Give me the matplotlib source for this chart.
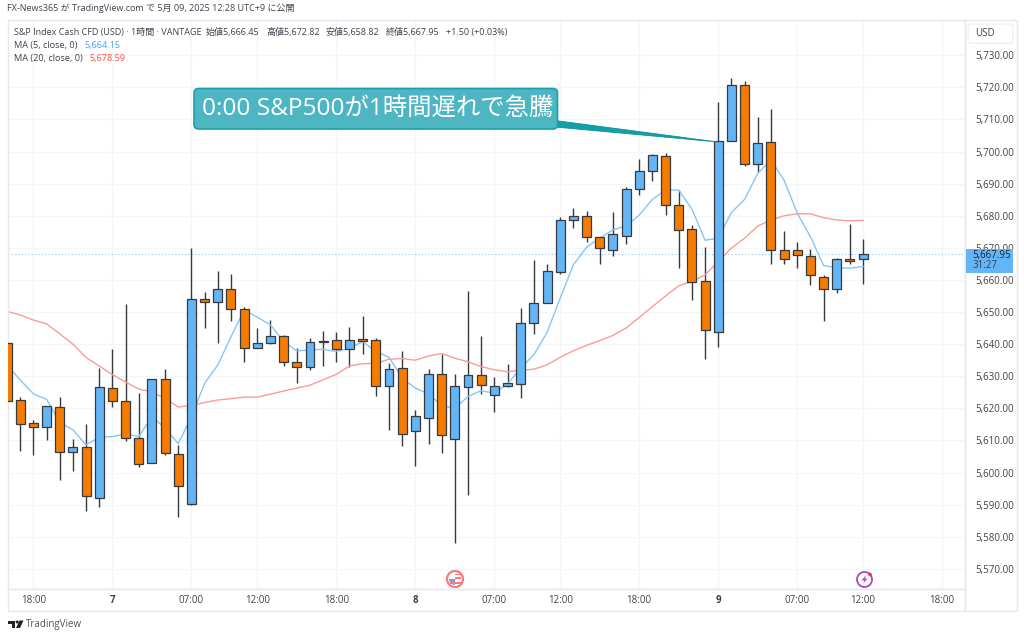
#!/usr/bin/env python3
"""S&P Index Cash CFD 1時間足 (TradingView) を再現する"""
import matplotlib
matplotlib.use("Agg")
import matplotlib.pyplot as plt
from matplotlib.patches import Circle, FancyBboxPatch, Polygon, Rectangle, Wedge

plt.rcParams["font.family"] = ["Open Sans", "Noto Sans CJK JP", "DejaVu Sans"]

# --- データ ---
opens = [5640.2, 5622.6, 5615.4, 5614.3, 5620.5, 5606.5, 5608.0, 5592.2, 5626.2, 5622.2,
         5610.7, 5602.9, 5629.1, 5605.8, 5590.1, 5654.0, 5653.1, 5657.1, 5651.0, 5638.9,
         5640.2, 5642.4, 5634.3, 5633.0, 5640.6, 5641.4, 5638.5, 5641.7, 5641.2, 5626.8,
         5632.5, 5612.8, 5617.1, 5630.8, 5610.4, 5626.5, 5630.3, 5624.1, 5627.1, 5627.6,
         5646.5, 5652.9, 5662.5, 5678.7, 5679.8, 5673.4, 5669.2, 5673.8, 5688.2, 5694.0,
         5698.6, 5683.5, 5675.8, 5659.6, 5643.9, 5703.3, 5720.9, 5696.2, 5702.9, 5669.4,
         5669.4, 5667.6, 5661.0, 5657.1, 5666.6, 5666.45]
highs = [5640.2, 5623.4, 5616.3, 5620.7, 5623.4, 5610.5, 5615.0, 5632.5, 5638.4, 5652.5,
         5624.7, 5629.1, 5632.4, 5608.6, 5670.0, 5656.1, 5662.9, 5661.8, 5651.5, 5645.0,
         5647.5, 5642.7, 5638.7, 5641.8, 5644.0, 5643.9, 5645.4, 5648.7, 5641.8, 5634.0,
         5637.9, 5619.5, 5632.4, 5637.0, 5630.6, 5656.6, 5642.5, 5629.7, 5633.8, 5651.4,
         5666.2, 5665.0, 5679.6, 5682.3, 5681.5, 5673.4, 5681.2, 5688.9, 5697.7, 5699.1,
         5699.7, 5688.0, 5677.0, 5670.3, 5715.4, 5722.9, 5722.0, 5710.7, 5713.2, 5675.4,
         5671.7, 5669.6, 5661.4, 5666.9, 5677.3, 5672.82]
lows = [5622.4, 5606.6, 5605.5, 5610.2, 5597.6, 5600.5, 5588.1, 5589.4, 5620.5, 5609.8,
        5601.8, 5602.9, 5605.3, 5586.1, 5590.0, 5644.9, 5640.5, 5647.3, 5634.5, 5638.7,
        5640.0, 5633.2, 5627.8, 5631.8, 5633.3, 5634.4, 5633.0, 5637.0, 5623.8, 5613.2,
        5608.4, 5601.9, 5609.0, 5606.2, 5578.1, 5593.0, 5624.5, 5619.0, 5626.6, 5623.3,
        5643.3, 5652.9, 5661.8, 5676.3, 5671.9, 5665.1, 5667.5, 5671.3, 5686.5, 5690.8,
        5680.2, 5663.6, 5653.8, 5635.3, 5639.0, 5703.3, 5695.5, 5693.7, 5664.9, 5665.0,
        5663.6, 5658.3, 5647.3, 5655.9, 5664.9, 5658.82]
closes = [5622.4, 5615.2, 5614.2, 5620.7, 5606.3, 5608.0, 5592.6, 5626.5, 5622.2, 5610.7,
          5602.7, 5629.1, 5606.0, 5595.9, 5654.0, 5653.1, 5657.1, 5651.0, 5638.7, 5640.3,
          5642.4, 5634.3, 5632.9, 5640.6, 5641.1, 5638.5, 5641.4, 5641.1, 5626.8, 5632.3,
          5612.1, 5617.6, 5630.8, 5611.6, 5626.8, 5630.3, 5627.4, 5627.0, 5627.9, 5646.7,
          5652.9, 5662.8, 5678.7, 5679.8, 5673.4, 5669.8, 5674.2, 5688.2, 5694.0, 5698.8,
          5683.3, 5675.5, 5659.4, 5644.3, 5703.4, 5720.9, 5696.2, 5702.7, 5669.2, 5666.6,
          5667.7, 5661.4, 5657.1, 5666.6, 5665.8, 5667.95]
ma5 = [5633.5, 5628.8, 5624.5, 5622.8, 5615.6, 5613.3, 5608.6, 5611.0, 5611.2, 5612.0,
       5611.2, 5617.4, 5613.8, 5609.0, 5617.4, 5627.8, 5633.5, 5642.3, 5650.6, 5648.4,
       5646.0, 5640.8, 5637.9, 5638.2, 5638.4, 5637.7, 5638.7, 5640.8, 5637.7, 5635.9,
       5629.4, 5626.3, 5624.5, 5620.8, 5620.0, 5623.7, 5625.5, 5624.7, 5627.6, 5632.5,
       5636.7, 5643.6, 5654.3, 5664.7, 5670.2, 5673.0, 5675.6, 5676.8, 5680.2, 5685.1,
       5688.0, 5688.0, 5682.1, 5672.4, 5673.0, 5681.0, 5685.1, 5693.2, 5697.4, 5691.1,
       5680.8, 5673.5, 5664.5, 5663.8, 5663.7, 5664.15]
ma20 = [5650.2, 5649.1, 5647.5, 5646.3, 5643.2, 5640.0, 5635.8, 5633.2, 5630.5, 5628.2,
        5626.0, 5625.1, 5623.0, 5620.4, 5620.9, 5621.8, 5622.6, 5623.0, 5623.5, 5623.5,
        5624.4, 5625.4, 5626.3, 5627.2, 5628.9, 5630.6, 5633.2, 5633.9, 5634.0, 5635.3,
        5635.5, 5635.0, 5636.3, 5637.1, 5635.6, 5634.5, 5633.0, 5632.0, 5631.4, 5631.8,
        5632.2, 5633.5, 5635.9, 5637.9, 5639.6, 5641.1, 5642.7, 5645.0, 5648.3, 5651.7,
        5655.0, 5658.2, 5659.5, 5661.6, 5665.7, 5669.9, 5673.0, 5676.8, 5678.7, 5680.0,
        5680.6, 5680.6, 5679.4, 5678.7, 5678.4, 5678.59]
price_ticks = [5570, 5580, 5590, 5600, 5610, 5620, 5630, 5640, 5650, 5660,
               5670, 5680, 5690, 5700, 5710, 5720, 5730]
time_ticks = [2, 8, 14, 19, 25, 31, 37, 42, 48, 54, 60, 65, 71]
time_labels = ["18:00", "7", "07:00", "12:00", "18:00", "8", "07:00",
               "12:00", "18:00", "9", "07:00", "12:00", "18:00"]
last_price = 5667.95

UP = "#64b5f6"
DOWN = "#f57c00"
EDGE = "#37393f"
GRID = "#f4f5f7"
FRAME = "#e6e8ee"
TEXT = "#3f424c"
W, H = 1024, 638

fig = plt.figure(figsize=(W / 100, H / 100), dpi=100, facecolor="white")

# --- チャート本体 ---
ax = fig.add_axes([7.5 / W, 1 - 589 / H, (965 - 7.5) / W, (589 - 20) / H])
ax.set_xlim(0.03, 72.74)
ax.set_ylim(5563.7, 5741.0)
ax.set_axisbelow(True)
ax.grid(color=GRID, linewidth=1)
for s in ax.spines.values():
    s.set_color(FRAME)
    s.set_linewidth(1)

ax.yaxis.tick_right()
ax.set_yticks(price_ticks)
ax.set_yticklabels([f"{p:,.2f}" for p in price_ticks])
ax.set_xticks(time_ticks)
ax.set_xticklabels(time_labels)
ax.tick_params(axis="both", length=0, labelsize=7.0, labelcolor=TEXT)
ax.tick_params(axis="y", pad=7.5)
ax.tick_params(axis="x", pad=4.5)
for lab, txt in zip(ax.get_xticklabels(), time_labels):
    if len(txt) == 1:
        lab.set_fontweight("bold")

x = list(range(len(opens)))
bottoms = [min(o, c) for o, c in zip(opens, closes)]
heights = [abs(o - c) for o, c in zip(opens, closes)]
colors = [UP if c >= o else DOWN for o, c in zip(opens, closes)]

ax.vlines(x, lows, highs, color=EDGE, linewidth=1, zorder=2)
ax.plot(x, ma5, color="#85c6f8", linewidth=1.0, zorder=2.2)
ax.plot(x, ma20, color="#fb9c96", linewidth=1.0, zorder=2.2)
ax.bar(x, heights, bottom=bottoms, width=0.68, color=colors, edgecolor=EDGE,
       linewidth=0.9, zorder=3)
ax.axhline(last_price, color="#8fc8f5", linewidth=0.8, linestyle=(0, (1, 2)), zorder=1.5)

# --- ピクセル座標のオーバーレイ (枠, 吹き出し, 文字) ---
ov = fig.add_axes([0, 0, 1, 1], facecolor="none")
ov.set_xlim(0, W)
ov.set_ylim(H, 0)
ov.axis("off")

ov.add_patch(Rectangle((965, 20), 52, 590.5, fill=False, edgecolor=FRAME, linewidth=1))
ov.add_patch(Rectangle((7.5, 589), 957.5, 21.5, fill=False, edgecolor=FRAME, linewidth=1))
ov.add_patch(FancyBboxPatch((968, 24), 44.7, 19.3, boxstyle="round,pad=0,rounding_size=2.5",
                            facecolor="white", edgecolor="#eef0f3", linewidth=1))
ov.text(975, 34, "USD", fontsize=7.0, color=TEXT, va="center")

# 現在値タグ
ov.add_patch(Rectangle((966, 249), 47, 24, facecolor=UP, edgecolor="none", zorder=4))
ov.text(972.7, 255.5, "5,667.95", fontsize=7.0, color="#1c2030", va="center", zorder=5)
ov.text(972.7, 266, "31:27", fontsize=7.0, color="#2c3f55", va="center", zorder=5)

# 吹き出し
ov.add_patch(Polygon([[555, 120.5], [718, 142], [555, 127]], closed=True,
                     facecolor="#12a0a8", edgecolor="#0f8f9c", linewidth=0.6, zorder=5))
ov.add_patch(FancyBboxPatch((194, 88.5), 363.5, 40.5, boxstyle="round,pad=0,rounding_size=4.5",
                            facecolor="#4db6c2", edgecolor="#1c9fad", linewidth=1.2, zorder=6))
ov.text(202, 108.3, "0:00 S&P500が1時間遅れで急騰", fontsize=17.6, color="white",
        va="center", zorder=7)

# 上部の文字
ov.text(7, 8.5, "FX-News365 が TradingView.com で 5月 09, 2025 12:28 UTC+9 に公開",
        fontsize=6.45, color=TEXT, va="center")
ov.text(14, 32, "S&P Index Cash CFD (USD) · 1時間 · VANTAGE", fontsize=6.45, color=TEXT, va="center")
ov.text(206, 32, "始値5,666.45", fontsize=6.45, color=TEXT, va="center")
ov.text(266, 32, "高値5,672.82", fontsize=6.45, color=TEXT, va="center")
ov.text(326, 32, "安値5,658.82", fontsize=6.45, color=TEXT, va="center")
ov.text(386, 32, "終値5,667.95", fontsize=6.45, color=TEXT, va="center")
ov.text(446, 32, "+1.50 (+0.03%)", fontsize=6.45, color=TEXT, va="center")
ov.text(14, 45.5, "MA (5, close, 0)", fontsize=6.6, color=TEXT, va="center")
ov.text(84.5, 45.5, "5,664.15", fontsize=6.6, color="#42a5f5", va="center")
ov.text(14, 58.5, "MA (20, close, 0)", fontsize=6.6, color=TEXT, va="center")
ov.text(89.5, 58.5, "5,678.59", fontsize=6.6, color="#f4524d", va="center")

# 経済指標アイコン
ov.add_patch(Circle((455, 579), 8, facecolor="white", edgecolor="#f77c80", linewidth=1.6, zorder=4))
ov.add_patch(Wedge((455, 579), 6, 90, 180, facecolor="#64a8ee", zorder=5))
ov.add_patch(Rectangle((455, 573.5), 5.5, 1.6, facecolor="#f77c80", zorder=5))
ov.add_patch(Rectangle((455, 577), 6, 1.6, facecolor="#f77c80", zorder=5))
ov.add_patch(Rectangle((449.5, 582), 11, 1.6, facecolor="#f77c80", zorder=5))

ov.add_patch(Circle((864.5, 579.5), 7.5, facecolor="white", edgecolor="#ab47bc", linewidth=1.3, zorder=4))
ov.add_patch(Polygon([[866, 575], [861.5, 580.5], [864.5, 580.5], [863, 584],
                      [867.5, 578.5], [864.8, 578.5]], closed=True, facecolor="#ab47bc", zorder=5))
ov.add_patch(Circle((870, 574.5), 1.8, facecolor="#f23645", zorder=6))

# ロゴ
ov.add_patch(Polygon([[8, 620.5], [15, 620.5], [15, 628], [11.5, 628], [11.5, 623.5], [8, 623.5]],
                     closed=True, facecolor="#1e222d"))
ov.add_patch(Circle((17.2, 622), 1.5, facecolor="#1e222d"))
ov.add_patch(Polygon([[19.5, 620.5], [23.5, 620.5], [20, 628], [16, 628]], closed=True, facecolor="#1e222d"))
ov.text(26, 624, "TradingView", fontsize=7.0, color="#50535e", va="center")

fig.savefig("out.png", dpi=100)
